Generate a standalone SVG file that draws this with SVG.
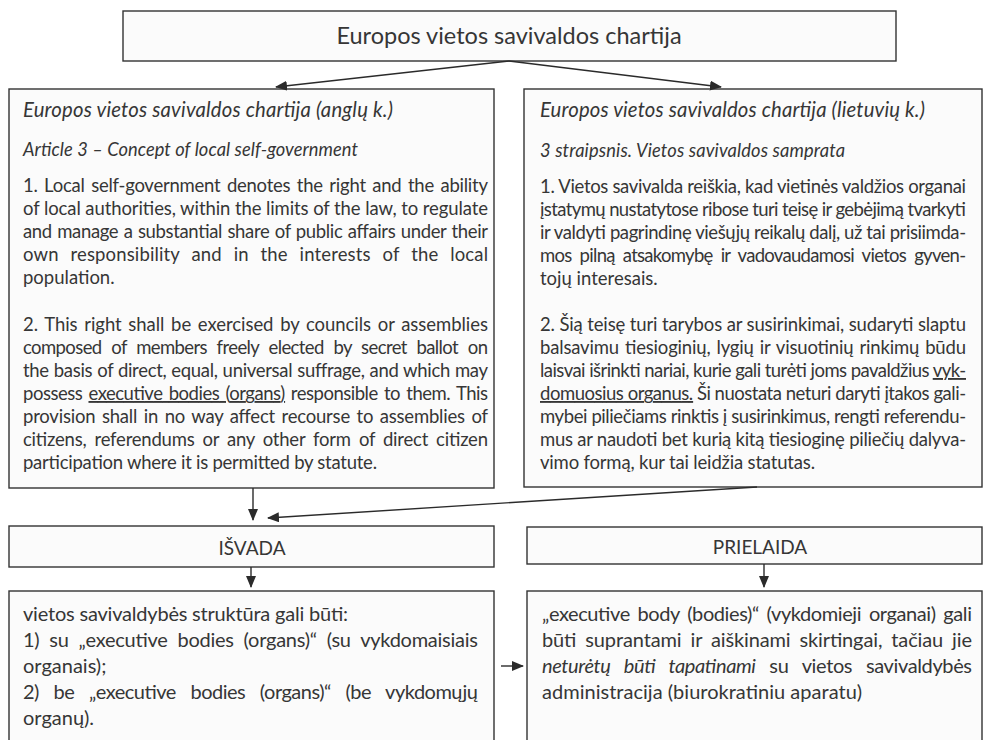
<svg xmlns="http://www.w3.org/2000/svg" width="984" height="740" viewBox="0 0 984 740">
<defs>
<marker id="ah" markerWidth="12" markerHeight="10" refX="11" refY="5" orient="auto" markerUnits="userSpaceOnUse">
<path d="M0,0 L12,5 L0,10 Z" fill="#2b2b2b"/>
</marker>
<style>
.box{fill:#fbfbfb;stroke:#333;stroke-width:1.4}
.t{font-family:Lato,"Liberation Sans",sans-serif;font-size:18.5px;fill:#363636}
.b{font-size:20px}
.h{font-size:20.3px;font-style:italic}
.i{font-style:italic}
.s{font-size:18.3px;font-style:italic}
.u{text-decoration:underline}
.c{text-anchor:middle}
.ln{stroke:#2b2b2b;stroke-width:1.4;fill:none;marker-end:url(#ah)}
</style>
</defs>
<rect width="984" height="740" fill="#ffffff"/>
<g id="top">
<rect class="box" x="123" y="11" width="773" height="50"/>
<text class="t c" x="509" y="44" style="font-size:23.5px">Europos vietos savivaldos chartija</text>
</g>
<g id="left">
<rect class="box" x="9" y="89" width="485" height="399"/>
<text class="t h" x="23" y="117" textLength="370" lengthAdjust="spacing">Europos vietos savivaldos chartija (anglų k.)</text>
<text class="t s" x="23" y="156" textLength="335" lengthAdjust="spacing">Article 3 – Concept of local self-government</text>
<text class="t" x="23" y="192" textLength="465" lengthAdjust="spacing" word-spacing="2">1. Local self-government denotes the right and the ability</text>
<text class="t" x="23" y="215" textLength="465" lengthAdjust="spacing">of local authorities, within the limits of the law, to regulate</text>
<text class="t" x="23" y="238" textLength="465" lengthAdjust="spacing" word-spacing="1">and manage a substantial share of public affairs under their</text>
<text class="t" x="23" y="261" textLength="465" lengthAdjust="spacing" word-spacing="7">own responsibility and in the interests of the local</text>
<text class="t" x="23" y="284">population.</text>
<text class="t" x="23" y="331" textLength="465" lengthAdjust="spacing" word-spacing="2">2. This right shall be exercised by councils or assemblies</text>
<text class="t" x="23" y="354" textLength="465" lengthAdjust="spacing" word-spacing="5.5">composed of members freely elected by secret ballot on</text>
<text class="t" x="23" y="377" textLength="465" lengthAdjust="spacing" word-spacing="0.5">the basis of direct, equal, universal suffrage, and which may</text>
<text class="t" x="23" y="400" textLength="465" lengthAdjust="spacing" word-spacing="2">possess <tspan class="u">executive bodies (organs)</tspan> responsible to them. This</text>
<text class="t" x="23" y="423" textLength="465" lengthAdjust="spacing" word-spacing="2">provision shall in no way affect recourse to assemblies of</text>
<text class="t" x="23" y="446" textLength="465" lengthAdjust="spacing" word-spacing="3.5">citizens, referendums or any other form of direct citizen</text>
<text class="t" x="23" y="469" textLength="354" lengthAdjust="spacing">participation where it is permitted by statute.</text>
</g>
<g id="right">
<rect class="box" x="524" y="89" width="458" height="398"/>
<text class="t h" x="540" y="117" textLength="385" lengthAdjust="spacing">Europos vietos savivaldos chartija (lietuvių k.)</text>
<text class="t s" x="540" y="157" textLength="305" lengthAdjust="spacing">3 straipsnis. Vietos savivaldos samprata</text>
<text class="t" x="540" y="193" textLength="426" lengthAdjust="spacing">1. Vietos savivalda reiškia, kad vietinės valdžios organai</text>
<text class="t" x="540" y="216" textLength="426" lengthAdjust="spacing">įstatymų nustatytose ribose turi teisę ir gebėjimą tvarkyti</text>
<text class="t" x="540" y="239" textLength="426" lengthAdjust="spacing">ir valdyti pagrindinę viešųjų reikalų dalį, už tai prisiimda-</text>
<text class="t" x="540" y="262" textLength="426" lengthAdjust="spacing" word-spacing="4">mos pilną atsakomybę ir vadovaudamosi vietos gyven-</text>
<text class="t" x="540" y="285">tojų interesais.</text>
<text class="t" x="540" y="331" textLength="426" lengthAdjust="spacing">2. Šią teisę turi tarybos ar susirinkimai, sudaryti slaptu</text>
<text class="t" x="540" y="354" textLength="426" lengthAdjust="spacing" word-spacing="1.5">balsavimu tiesioginių, lygių ir visuotinių rinkimų būdu</text>
<text class="t" x="540" y="377" textLength="426" lengthAdjust="spacing">laisvai išrinkti nariai, kurie gali turėti joms pavaldžius <tspan class="u">vyk-</tspan></text>
<text class="t" x="540" y="400" textLength="426" lengthAdjust="spacing"><tspan class="u">domuosius organus.</tspan> Ši nuostata neturi daryti įtakos gali-</text>
<text class="t" x="540" y="423" textLength="426" lengthAdjust="spacing">mybei piliečiams rinktis į susirinkimus, rengti referendu-</text>
<text class="t" x="540" y="446" textLength="426" lengthAdjust="spacing">mus ar naudoti bet kurią kitą tiesioginę piliečių dalyva-</text>
<text class="t" x="540" y="469" textLength="275" lengthAdjust="spacing">vimo formą, kur tai leidžia statutas.</text>
</g>
<g id="isvada">
<rect class="box" x="9" y="526" width="485" height="41"/>
<text class="t c" x="252" y="555" style="font-size:19px">IŠVADA</text>
</g>
<g id="prielaida">
<rect class="box" x="527" y="527" width="455" height="37"/>
<text class="t c" x="760" y="554" style="font-size:19px">PRIELAIDA</text>
</g>
<g id="conclusion">
<rect class="box" x="9" y="591" width="485" height="155"/>
<text class="t b" x="23" y="621" textLength="325" lengthAdjust="spacing">vietos savivaldybės struktūra gali būti:</text>
<text class="t b" x="23" y="647" textLength="455" lengthAdjust="spacing" word-spacing="5">1) su „executive bodies (organs)“ (su vykdomaisiais</text>
<text class="t b" x="23" y="673">organais);</text>
<text class="t b" x="23" y="699" textLength="455" lengthAdjust="spacing" word-spacing="10">2) be „executive bodies (organs)“ (be vykdomųjų</text>
<text class="t b" x="23" y="725">organų).</text>
</g>
<g id="premise">
<rect class="box" x="527" y="591" width="455" height="155"/>
<text class="t b" x="542" y="621" textLength="430" lengthAdjust="spacing" word-spacing="3">„executive body (bodies)“ (vykdomieji organai) gali</text>
<text class="t b" x="542" y="647" textLength="430" lengthAdjust="spacing" word-spacing="4">būti suprantami ir aiškinami skirtingai, tačiau jie</text>
<text class="t b" x="542" y="673" textLength="430" lengthAdjust="spacing" word-spacing="9"><tspan class="i">neturėtų būti tapatinami</tspan> su vietos savivaldybės</text>
<text class="t b" x="542" y="699" textLength="320" lengthAdjust="spacing">administracija (biurokratiniu aparatu)</text>
</g>
<g id="connectors">
<path class="ln" d="M509,61 L276,87"/>
<path class="ln" d="M509,61 L721,87"/>
<path class="ln" d="M253,488 L253,520"/>
<path class="ln" d="M757,487 L268,518"/>
<path class="ln" d="M251,567 L251,587"/>
<path class="ln" d="M764,564 L764,587"/>
<path class="ln" d="M501,666 L523,666"/>
</g>
</svg>
